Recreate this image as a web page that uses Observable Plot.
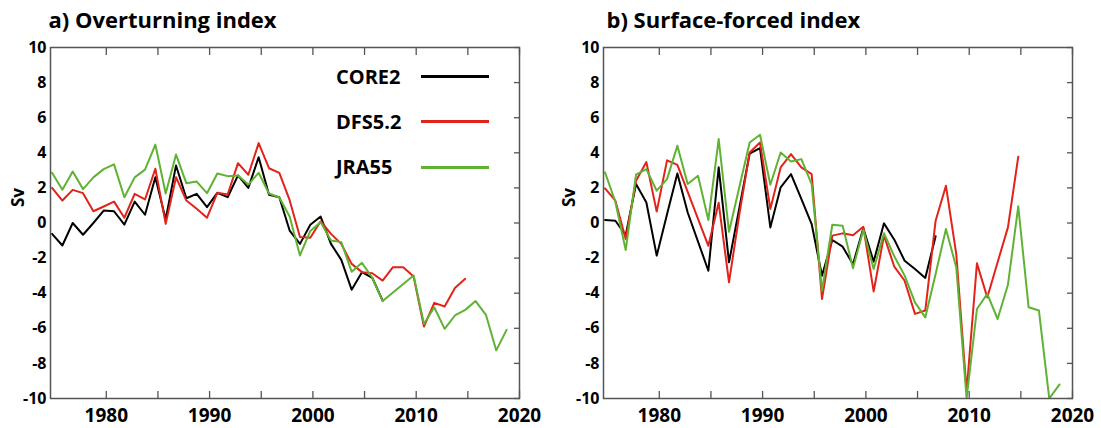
<!DOCTYPE html>
<html><head><meta charset="utf-8">
<script src="https://cdn.jsdelivr.net/npm/d3@7"></script>
<script src="https://cdn.jsdelivr.net/npm/@observablehq/plot@0.6"></script>
<style>
body{margin:0;background:#fff;}
#wrap{position:relative;width:1101px;height:428px;font-family:'Open Sans',sans-serif;overflow:hidden;}
.panel{position:absolute;top:0;}
.lg-text{position:absolute;font-weight:bold;font-size:20px;line-height:20px;white-space:nowrap;color:#000;}
.lg-line{position:absolute;height:3px;}
</style></head><body><div id="wrap"></div>
<script>
// ---- data ----
const startYear = 1974;
const seriesNames = ["CORE2", "DFS5.2", "JRA55"];
const seriesColors = ["#000000", "#e2231a", "#5fb233"];
const panelTitles = ["a) Overturning index", "b) Surface-forced index"];
const xTickYears = [1980, 1985, 1990, 1995, 2000, 2005, 2010, 2015, 2020];
const xLabelYears = [1980, 1990, 2000, 2010, 2020];
const yTicks = [-10, -8, -6, -4, -2, 0, 2, 4, 6, 8, 10];

// a) Overturning index (Sv), annual values from 1974
const overturningCORE2 = [-0.62, -1.28, 0.0, -0.67, 0.0, 0.71, 0.67, -0.09, 1.22, 0.47, 2.61, 0.2, 3.28, 1.41, 1.66, 0.9, 1.72, 1.47, 2.71, 2.0, 3.75, 1.61, 1.47, -0.43, -1.19, -0.1, 0.37, -1.19, -2.1, -3.8, -2.8, -3.12, -4.42];
const overturningDFS52 = [2.0, 1.28, 1.89, 1.7, 0.67, 0.94, 1.22, 0.3, 1.66, 1.34, 3.09, -0.05, 2.61, 1.28, 0.81, 0.3, 1.72, 1.62, 3.41, 2.75, 4.55, 3.12, 2.86, 1.3, -0.8, -0.84, 0.1, -0.62, -1.19, -2.33, -2.8, -2.86, -3.28, -2.52, -2.52, -3.05, -5.9, -4.55, -4.76, -3.71, -3.18];
const overturningJRA55 = [2.86, 1.9, 2.93, 1.93, 2.6, 3.07, 3.34, 1.47, 2.6, 3.04, 4.47, 1.68, 3.9, 2.27, 2.36, 1.7, 2.82, 2.67, 2.7, 2.19, 2.86, 1.68, 1.45, 0.37, -1.85, -0.45, 0.05, -1.0, -1.09, -2.78, -2.27, -3.12, -4.45, -3.96, -3.48, -2.99, -5.75, -4.8, -6.03, -5.27, -4.95, -4.45, -5.23, -7.26, -6.09];

// b) Surface-forced index (Sv), annual values from 1974
const surfaceCORE2 = [0.17, 0.13, -0.7, 2.22, 1.17, -1.86, 0.5, 2.82, 0.6, -1.06, -2.72, 3.17, -2.24, 0.86, 3.96, 4.27, -0.25, 2.03, 2.79, 1.37, -0.06, -3.0, -0.97, -1.35, -2.35, -0.3, -2.2, -0.02, -0.95, -2.15, -2.62, -3.13, -0.75];
const surfaceDFS52 = [1.97, 1.27, -0.91, 2.41, 3.47, 0.65, 3.57, 3.31, 1.77, 0.23, -1.3, 1.15, -3.38, 0.5, 4.02, 4.59, 0.8, 3.17, 3.93, 3.17, 2.79, -4.33, -0.72, -0.59, -0.7, -0.21, -3.9, -0.72, -2.49, -3.29, -5.18, -4.99, 0.13, 2.12, -1.77, -9.6, -2.3, -4.24, -2.24, -0.25, 3.78];
const surfaceJRA55 = [2.88, 1.2, -1.54, 2.75, 3.07, 1.84, 2.5, 4.4, 2.22, 2.69, 0.17, 4.78, -0.5, 2.05, 4.59, 5.03, 2.18, 4.02, 3.51, 3.64, 2.22, -3.86, -0.1, -0.15, -2.58, -0.39, -2.62, -0.58, -1.9, -3.0, -4.52, -5.38, -2.9, -0.34, -2.53, -10.0, -4.9, -4.04, -5.47, -3.52, 0.95, -4.8, -4.99, -10.0, -9.2];

// ---- build tables ----
function rows(values, series) {
  return values.map((v, i) => ({year: startYear + i, value: v, series}));
}
const panelA = [
  ...rows(overturningCORE2, seriesNames[0]),
  ...rows(overturningDFS52, seriesNames[1]),
  ...rows(overturningJRA55, seriesNames[2])
];
const panelB = [
  ...rows(surfaceCORE2, seriesNames[0]),
  ...rows(surfaceDFS52, seriesNames[1]),
  ...rows(surfaceJRA55, seriesNames[2])
];

const FONT = "'Open Sans', sans-serif";
const GRAY = "#555";

function panel(data, {width, marginLeft, marginRight, title, titleDx, svDx}) {
  return Plot.plot({
    width, height: 428,
    marginLeft, marginRight, marginTop: 47, marginBottom: 30,
    style: {fontFamily: FONT, fontWeight: "bold", color: "#000", background: "transparent", overflow: "visible"},
    x: {domain: [1974.6, 2020]},
    y: {domain: [-10, 10]},
    color: {domain: seriesNames, range: seriesColors},
    marks: [
      // annual values are drawn late in each year, as in the source figure
      Plot.line(data, {x: d => d.year + 0.75, y: "value", z: "series", stroke: "series", strokeWidth: 2, clip: true}),
      Plot.frame({stroke: GRAY, strokeWidth: 1.5}),
      Plot.axisX({ticks: xTickYears, tickSize: -7, tickFormat: () => "", label: null, stroke: GRAY, strokeWidth: 1.3}),
      Plot.axisX({anchor: "top", ticks: xTickYears, tickSize: -7, tickFormat: () => "", label: null, stroke: GRAY, strokeWidth: 1.3}),
      Plot.axisX({ticks: xLabelYears, tickSize: 0, tickPadding: 10, tickFormat: d => String(d), fontSize: 19, label: null}),
      Plot.axisY({ticks: yTicks, tickSize: 0, tickPadding: 4, tickFormat: d => String(d), fontSize: 16, label: null}),
      Plot.axisY({anchor: "right", ticks: yTicks, tickSize: -6, tickFormat: () => "", label: null, stroke: GRAY, strokeWidth: 1.3}),
      Plot.text([title], {text: d => d, frameAnchor: "top-left", dx: titleDx, dy: -20, lineAnchor: "bottom", textAnchor: "start", fontSize: 22, fontWeight: "bold"}),
      Plot.text(["Sv"], {text: d => d, frameAnchor: "left", dx: svDx, dy: -16, rotate: -90, fontSize: 17, fontWeight: "bold"})
    ]
  });
}

const wrap = document.getElementById("wrap");
const a = panel(panelA, {width: 550, marginLeft: 50, marginRight: 31, title: panelTitles[0], titleDx: -2, svDx: -32});
a.classList.add("panel"); a.style.left = "0px";
const b = panel(panelB, {width: 551, marginLeft: 53, marginRight: 29, title: panelTitles[1], titleDx: 3, svDx: -34});
b.classList.add("panel"); b.style.left = "550px";
wrap.appendChild(a);
wrap.appendChild(b);

// legend (panel a)
const legendTop = 66.5, legendStep = 45.2;
seriesNames.forEach((name, i) => {
  const t = document.createElement("div");
  t.className = "lg-text";
  t.textContent = name;
  t.style.left = "336px";
  t.style.top = (legendTop + i * legendStep) + "px";
  wrap.appendChild(t);
  const l = document.createElement("div");
  l.className = "lg-line";
  l.style.left = "421px";
  l.style.width = "68px";
  l.style.top = (legendTop + 8.7 + i * legendStep) + "px";
  l.style.background = seriesColors[i];
  wrap.appendChild(l);
});
</script></body></html>
